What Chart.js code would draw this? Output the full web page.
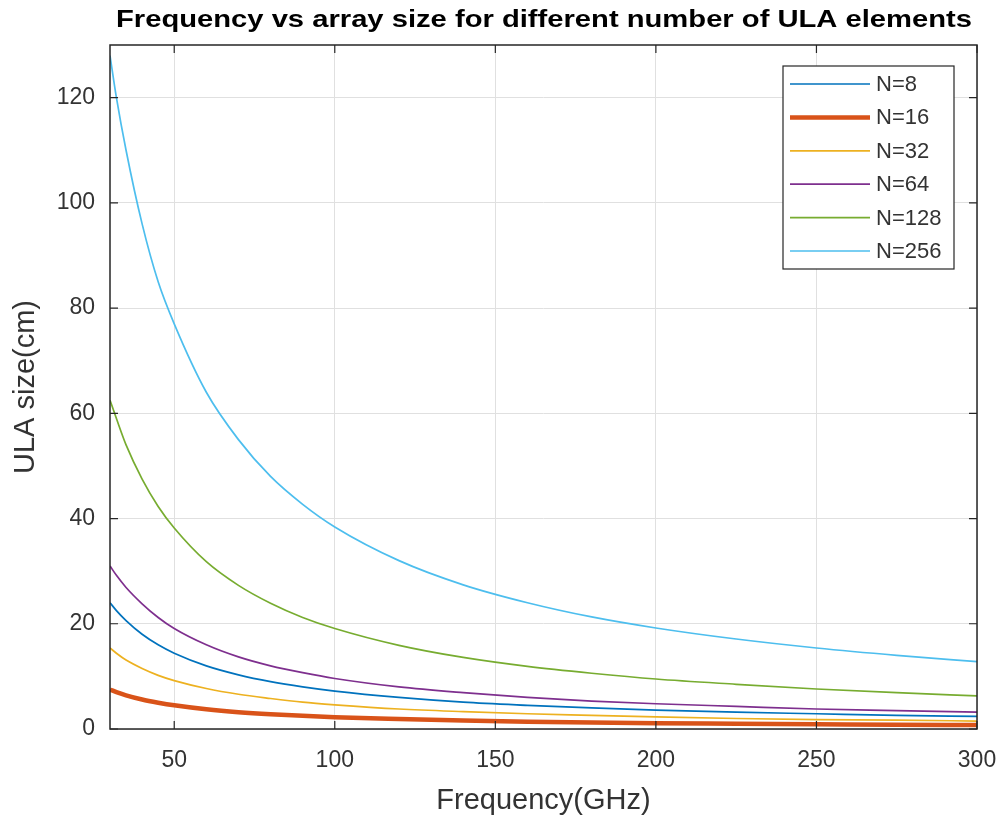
<!DOCTYPE html>
<html>
<head>
<meta charset="utf-8">
<script src="https://cdn.jsdelivr.net/npm/chart.js@4/dist/chart.umd.min.js"></script>
<style>
  html, body { margin: 0; padding: 0; background: #fff; }
  #wrap { width: 1005px; height: 818px; }
</style>
</head>
<body>
<div id="wrap"><canvas id="chart" width="1005" height="818"></canvas></div>
<script>
// frequency samples (GHz) and ULA size (cm)
var freq = [30, 32, 35, 40, 45, 50, 60, 70, 80, 90, 100, 120, 140, 160, 180, 200, 225, 250, 275, 300];
var n8   = [24, 22.5, 20.6, 18, 16, 14.4, 12, 10.3, 9, 8, 7.2, 6, 5.1, 4.5, 4, 3.6, 3.2, 2.9, 2.6, 2.4];
var n16  = [7.5, 7.0, 6.4, 5.6, 5.0, 4.5, 3.75, 3.2, 2.8, 2.5, 2.25, 1.9, 1.6, 1.4, 1.25, 1.1, 1.0, 0.9, 0.8, 0.75];
var n32  = [15.4, 14.4, 13.1, 11.5, 10.2, 9.2, 7.7, 6.6, 5.8, 5.1, 4.6, 3.8, 3.3, 2.9, 2.6, 2.3, 2.0, 1.8, 1.7, 1.5];
var n64  = [31, 29.2, 26.9, 23.8, 21.2, 19.1, 16, 13.7, 12, 10.7, 9.6, 8, 6.9, 6, 5.3, 4.8, 4.3, 3.8, 3.5, 3.2];
var n128 = [62.5, 59, 54, 47.5, 42.3, 38.2, 31.8, 27.3, 23.9, 21.2, 19.1, 15.9, 13.6, 11.9, 10.6, 9.5, 8.5, 7.6, 6.9, 6.3];
var n256 = [128, 120, 110, 96, 85, 77, 64, 55, 48, 42.7, 38.4, 32, 27.4, 24, 21.3, 19.2, 17.1, 15.4, 14, 12.8];
var labels = ['N=8', 'N=16', 'N=32', 'N=64', 'N=128', 'N=256'];
var xTicks = [50, 100, 150, 200, 250, 300];
var yTicks = [0, 20, 40, 60, 80, 100, 120];
var titleText = 'Frequency vs array size for different number of ULA elements';

var colors = ['#0072BD', '#D95319', '#EDB120', '#7E2F8E', '#77AC30', '#4DBEEE'];
var widths = [1.7, 4.5, 1.7, 1.7, 1.7, 1.7];
var series = [n8, n16, n32, n64, n128, n256];
var fontFam = '"Liberation Sans", Arial, Helvetica, sans-serif';
var textCol = '#333333';

function pts(ys) {
  var out = [];
  for (var i = 0; i < freq.length; i++) out.push({x: freq[i], y: ys[i]});
  return out;
}

var datasets = [];
for (var i = 0; i < series.length; i++) {
  datasets.push({
    label: labels[i],
    data: pts(series[i]),
    borderColor: colors[i],
    borderWidth: widths[i],
    pointRadius: 0,
    fill: false,
    cubicInterpolationMode: 'monotone'
  });
}

// box, inward ticks, title and legend like matlab
var boxPlugin = {
  id: 'box',
  afterDatasetsDraw: function(chart) {
    var ctx = chart.ctx, a = chart.chartArea;
    var xs = chart.scales.x, ys = chart.scales.y;
    ctx.save();
    ctx.strokeStyle = '#262626';
    ctx.lineWidth = 1.5;
    ctx.strokeRect(a.left, a.top, a.right - a.left, a.bottom - a.top);
    ctx.lineWidth = 1.2;
    ctx.beginPath();
    xTicks.forEach(function(v) {
      var px = xs.getPixelForValue(v);
      ctx.moveTo(px, a.bottom); ctx.lineTo(px, a.bottom - 8);
      ctx.moveTo(px, a.top); ctx.lineTo(px, a.top + 8);
    });
    yTicks.forEach(function(v) {
      var py = ys.getPixelForValue(v);
      ctx.moveTo(a.left, py); ctx.lineTo(a.left + 8, py);
      ctx.moveTo(a.right, py); ctx.lineTo(a.right - 8, py);
    });
    ctx.stroke();

    // title (reference text is stretched wide)
    ctx.save();
    ctx.font = 'bold 24px ' + fontFam;
    ctx.fillStyle = '#000';
    ctx.textAlign = 'center';
    ctx.textBaseline = 'alphabetic';
    var tw = ctx.measureText(titleText).width;
    var sx = 856 / tw;
    ctx.translate((a.left + a.right) / 2 + 0.5, 27);
    ctx.scale(sx, 1);
    ctx.fillText(titleText, 0, 0);
    ctx.restore();

    // legend
    var lx = a.right - 194, ly = a.top + 21, lw = 171, lh = 203;
    ctx.fillStyle = '#fff';
    ctx.fillRect(lx, ly, lw, lh);
    ctx.strokeStyle = '#262626';
    ctx.lineWidth = 1.2;
    ctx.strokeRect(lx, ly, lw, lh);
    ctx.font = '22px ' + fontFam;
    ctx.textBaseline = 'middle';
    ctx.textAlign = 'left';
    for (var i = 0; i < labels.length; i++) {
      var ry = ly + 18 + i * 33.4;
      ctx.strokeStyle = colors[i];
      ctx.lineWidth = widths[i];
      ctx.beginPath();
      ctx.moveTo(lx + 7, ry); ctx.lineTo(lx + 87, ry);
      ctx.stroke();
      ctx.fillStyle = textCol;
      ctx.fillText(labels[i], lx + 93, ry + 1);
    }
    ctx.restore();
  }
};

new Chart(document.getElementById('chart'), {
  type: 'line',
  data: { datasets: datasets },
  plugins: [boxPlugin],
  options: {
    responsive: false,
    animation: false,
    layout: { padding: { left: 0, right: 28, top: 45, bottom: 0 } },
    plugins: {
      legend: { display: false },
      tooltip: { enabled: false },
      title: { display: false }
    },
    scales: {
      x: {
        type: 'linear',
        min: 30,
        max: 300,
        afterBuildTicks: function(s) { s.ticks = xTicks.map(function(v) { return {value: v}; }); },
        afterFit: function(s) { s.height = 89; s.paddingLeft = 0; s.paddingRight = 0; },
        grid: { color: '#e0e0e0', lineWidth: 1, drawTicks: false },
        border: { display: false },
        ticks: { color: textCol, font: { family: fontFam, size: 23 }, padding: 18, maxRotation: 0 },
        title: { display: true, text: 'Frequency(GHz)', color: textCol, font: { family: fontFam, size: 29 }, padding: { top: 12, bottom: 0 } }
      },
      y: {
        min: 0,
        max: 130,
        afterBuildTicks: function(s) { s.ticks = yTicks.map(function(v) { return {value: v}; }); },
        afterFit: function(s) { s.width = 110; s.paddingTop = 0; s.paddingBottom = 0; },
        grid: { color: '#e0e0e0', lineWidth: 1, drawTicks: false },
        border: { display: false },
        ticks: { color: textCol, font: { family: fontFam, size: 23 }, padding: 15 },
        title: { display: true, text: 'ULA size(cm)', color: textCol, font: { family: fontFam, size: 29 }, padding: { top: 9, bottom: 0 } }
      }
    }
  }
});
</script>
</body>
</html>
